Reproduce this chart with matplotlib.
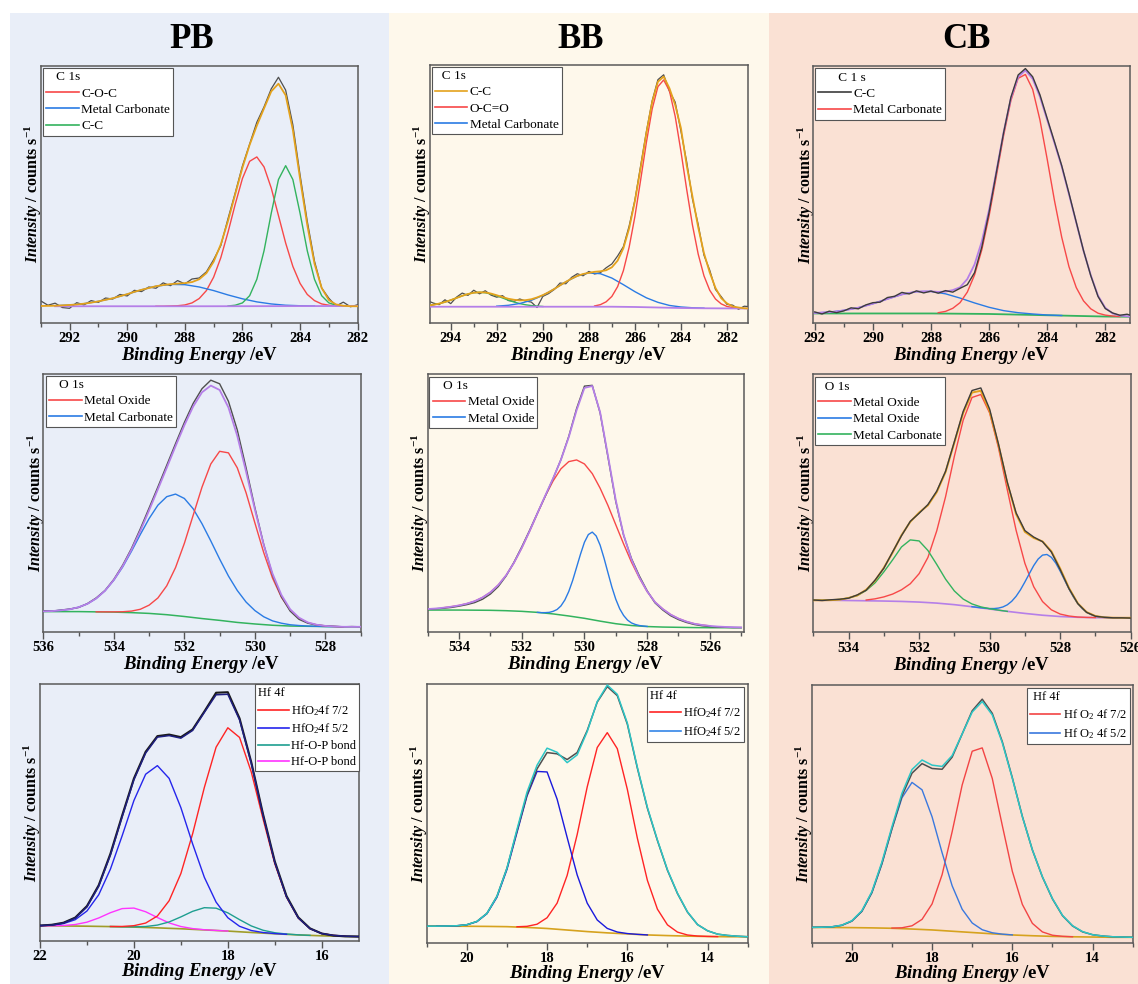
import numpy as np
import matplotlib
matplotlib.use("Agg")
import matplotlib.pyplot as plt
from matplotlib.lines import Line2D
from matplotlib.patches import Rectangle
from matplotlib.ticker import MultipleLocator

plt.rcParams['font.family'] = ['Liberation Serif', 'DejaVu Serif']
plt.rcParams['mathtext.fontset'] = 'custom'
plt.rcParams['mathtext.rm'] = 'Liberation Serif'
plt.rcParams['mathtext.it'] = 'Liberation Serif:italic'
plt.rcParams['mathtext.bf'] = 'Liberation Serif:bold'
try:
    plt.rcParams['mathtext.bfit'] = 'Liberation Serif:italic:bold'
    BFIT = r'\mathbfit'
except KeyError:
    BFIT = r'\mathit'

# ------------------------------------------------------------------ data
# every curve: values (intensity, 0-100 scale of the panel) sampled from a
# start energy with a fixed energy step (eV, decreasing)

column_titles = ['PB', 'BB', 'CB']

# ---------------- PB, C 1s
pb_c1s_ticks = [292, 290, 288, 286, 284, 282]
pb_c1s_raw_at = (293.0, 0.25)
pb_c1s_raw = [8.5, 6.8, 7.6, 5.9, 5.6, 7.8, 6.9, 8.6, 7.9, 9.6, 9.2, 11.0, 10.4, 12.6, 12.1,
              13.9, 13.4, 15.5, 14.4, 16.4, 15.1, 17.0, 17.4, 19.8, 24.5, 30.0, 40.5, 50.5,
              61.0, 69.5, 78.0, 84.0, 91.0, 95.5, 90.5, 77.0, 57.5, 39.5, 24.0, 13.5, 9.5,
              6.5, 8.0, 6.2, 7.0]
pb_c1s_fit_at = (293.0, 0.25)
pb_c1s_fit = [6.5, 6.55, 6.6, 6.75, 6.9, 7.1, 7.4, 7.8, 8.3, 8.9, 9.5, 10.3, 11.1, 12.0, 12.8,
              13.5, 14.2, 14.65, 15.0, 15.2, 15.4, 15.8, 16.9, 19.3, 23.7, 30.5, 39.6, 50.0,
              60.3, 69.2, 76.7, 83.4, 90.0, 93.0, 88.5, 75.0, 56.0, 38.0, 23.0, 13.5, 8.8,
              7.1, 6.6, 6.4, 6.4]
pb_c1s_coc_at = (289.0, 0.25)
pb_c1s_coc = [6.4, 6.4, 6.5, 6.6, 6.9, 7.7, 9.4, 12.5, 17.7, 25.3, 35.2, 46.1, 56.1, 62.8,
              64.5, 60.6, 52.4, 41.7, 31.0, 21.9, 15.3, 11.0, 8.6, 7.3, 6.8, 6.5, 6.4]
pb_c1s_cc_at = (286.5, 0.25)
pb_c1s_cc = [6.5, 6.8, 7.7, 10.5, 16.9, 28.0, 42.6, 55.7, 61.1, 55.7, 42.6, 28.0, 16.9, 10.5,
             7.7, 6.8, 6.5, 6.4]
pb_c1s_carb_at = (292.5, 0.5)
pb_c1s_carb = [6.6, 6.9, 7.4, 8.3, 9.5, 11.1, 12.8, 14.2, 14.9, 14.8, 13.9, 12.5, 10.8, 9.3,
               8.1, 7.3, 6.8, 6.6, 6.5]
pb_c1s_bg_at = (292.5, 5.25)
pb_c1s_bg = [6.4, 6.4, 6.5]

# ---------------- BB, C 1s
bb_c1s_ticks = [294, 292, 290, 288, 286, 284, 282]
bb_c1s_raw_at = (295.0, 0.25)
bb_c1s_raw = [8.5, 7.6, 7.0, 8.9, 7.4, 9.9, 11.5, 10.6, 12.6, 11.2, 12.4, 10.7, 9.9, 10.5,
              8.6, 8.3, 9.2, 8.4, 8.0, 5.9, 10.2, 11.3, 12.9, 15.4, 15.1, 17.6, 19.0, 18.2,
              19.9, 18.9, 19.4, 21.3, 22.8, 25.9, 29.5, 37.5, 47.6, 60.9, 74.2, 86.1, 94.3,
              96.2, 89.8, 85.6, 74.3, 62.4, 48.0, 38.1, 26.2, 20.4, 12.9, 10.1, 7.1, 6.8,
              5.2, 6.4, 6.2]
bb_c1s_fit_at = (295.0, 0.25)
bb_c1s_fit = [6.65, 6.96, 7.41, 8.02, 8.76, 9.6, 10.43, 11.14, 11.63, 11.8, 11.75, 11.3, 10.65,
              9.95, 9.3, 8.9, 8.65, 8.75, 9.1, 9.8, 10.7, 11.8, 13.1, 14.5, 15.85, 17.1, 18.15,
              18.9, 19.35, 19.75, 19.95, 20.35, 21.5, 24.1, 28.9, 36.6, 47.15, 60.05, 73.65,
              85.6, 93.5, 95.5, 91.0, 84.5, 75.5, 61.0, 49.0, 37.0, 27.0, 19.5, 13.5, 9.5,
              7.5, 6.3, 5.9, 5.6, 5.5]
bb_c1s_oco_at = (287.75, 0.25)
bb_c1s_oco = [6.5, 7.0, 8.1, 10.2, 14.0, 20.2, 29.3, 41.2, 55.4, 70.0, 82.9, 91.6, 94.2, 90.0,
              80.1, 66.5, 51.7, 37.9, 26.6, 18.2, 12.6, 9.2, 7.3, 6.3, 5.85, 5.6]
bb_c1s_carb_at = (292.0, 0.5)
bb_c1s_carb = [6.42, 6.75, 7.45, 8.68, 10.59, 13.11, 15.84, 18.14, 19.33, 19.02, 17.32, 14.76,
               12.05, 9.65, 7.9, 6.7, 6.1, 5.8, 5.65]
bb_c1s_side_at = (295.0, 0.25)
bb_c1s_side = [6.65, 6.96, 7.41, 8.02, 8.76, 9.6, 10.43, 11.14, 11.63, 11.8, 11.63, 11.14,
               10.43, 9.6, 8.76, 8.02, 7.41, 6.96, 6.65, 6.45, 6.3]
bb_c1s_bg_at = (295.0, 1.0)
bb_c1s_bg = [6.2, 6.2, 6.2, 6.2, 6.2, 6.2, 6.2, 6.2, 6.2, 6.1, 5.9, 5.7, 5.6, 5.55, 5.5]

# ---------------- CB, C 1s
cb_c1s_ticks = [292, 290, 288, 286, 284, 282]
cb_c1s_raw_at = (292.0, 0.25)
cb_c1s_raw = [4.2, 3.4, 4.5, 3.9, 4.6, 5.8, 5.4, 6.9, 7.8, 8.0, 9.8, 10.3, 11.8, 11.2, 12.4,
              11.6, 12.3, 11.5, 12.5, 11.9, 13.4, 14.8, 19.5, 29.5, 43.0, 58.5, 74.0, 87.8,
              96.5, 99.0, 95.8, 88.8, 79.6, 70.5, 61.2, 50.4, 39.2, 28.1, 18.3, 10.2, 5.5,
              3.8, 2.9, 3.3, 2.4]
cb_c1s_fit_at = (292.0, 0.25)
cb_c1s_fit = [3.8, 3.95, 4.1, 4.4, 4.8, 5.3, 5.85, 6.6, 7.4, 8.3, 9.25, 10.15, 11.0, 11.6, 12.1,
              12.2, 12.2, 12.0, 12.1, 12.7, 13.8, 17.0, 22.7, 31.7, 44.0, 58.9, 74.2, 87.4,
              95.7, 98.3, 95.0, 88.0, 79.0, 70.0, 60.8, 50.0, 39.0, 28.0, 18.5, 10.5, 5.8,
              3.6, 2.8, 2.5, 2.3]
cb_c1s_main_at = (287.75, 0.25)
cb_c1s_main = [3.9, 4.4, 5.6, 7.8, 11.9, 18.6, 28.4, 41.6, 57.1, 72.9, 86.5, 95.2, 96.7, 90.9,
               79.0, 63.7, 47.6, 33.3, 21.8, 13.7, 8.5, 5.4, 3.7, 2.95, 2.6, 2.4]
cb_c1s_carb_at = (292.0, 0.5)
cb_c1s_carb = [3.8, 4.1, 4.8, 5.85, 7.4, 9.25, 11.0, 12.1, 12.2, 11.25, 9.6, 7.7, 6.0, 4.7,
               3.9, 3.4, 3.0, 2.8]
cb_c1s_bg_at = (292.0, 1.0)
cb_c1s_bg = [3.6, 3.6, 3.6, 3.6, 3.6, 3.5, 3.4, 3.15, 2.9, 2.65, 2.4, 2.3]

# ---------------- PB, O 1s
pb_o1s_ticks = [536, 534, 532, 530, 528]
pb_o1s_raw_at = (536.0, 0.25)
pb_o1s_raw = [8.1, 8.0, 8.4, 8.8, 9.4, 10.9, 13.1, 16.0, 20.3, 25.8, 32.3, 39.9, 48.0, 56.2,
              64.6, 73.0, 81.2, 88.6, 94.3, 97.6, 96.2, 89.4, 78.3, 63.6, 48.1, 33.9, 22.0,
              13.6, 8.0, 4.8, 3.3, 2.6, 2.3, 2.1, 1.9, 2.0, 1.9]
pb_o1s_fit_at = (536.0, 0.25)
pb_o1s_fit = [7.9, 8.0, 8.3, 8.7, 9.5, 10.8, 12.9, 15.9, 20.1, 25.4, 31.8, 39.1, 47.1, 55.3,
              63.6, 72.0, 80.1, 87.4, 92.9, 95.5, 93.8, 87.0, 76.0, 62.1, 47.4, 33.7, 22.5,
              14.3, 8.7, 5.45, 3.6, 2.7, 2.25, 2.05, 1.9, 1.9, 1.9]
pb_o1s_oxide_at = (534.5, 0.25)
pb_o1s_oxide = [7.7, 7.7, 7.7, 7.75, 8.0, 8.7, 10.3, 13.1, 17.8, 24.9, 34.3, 45.2, 56.1, 65.1,
                70.0, 69.4, 63.6, 53.9, 42.2, 30.7, 20.8, 13.4, 8.3, 5.2, 3.5, 2.7, 2.2, 2.0,
                1.9]
pb_o1s_carb_at = (536.0, 0.25)
pb_o1s_carb = [7.9, 8.0, 8.3, 8.7, 9.5, 10.8, 12.9, 15.9, 20.0, 25.1, 31.2, 37.7, 43.9, 49.1,
               52.4, 53.4, 51.7, 47.7, 41.9, 35.2, 28.2, 21.6, 16.0, 11.5, 8.2, 5.8, 4.2, 3.3,
               2.7, 2.4, 2.2, 2.1, 2.0, 1.95, 1.9]
pb_o1s_bg_at = (536.0, 0.5)
pb_o1s_bg = [7.8, 7.8, 7.8, 7.7, 7.6, 7.4, 7.1, 6.6, 5.9, 5.1, 4.4, 3.6, 3.0, 2.5, 2.2, 2.1,
             2.0, 1.9, 1.9]

# ---------------- BB, O 1s
bb_o1s_ticks = [534, 532, 530, 528, 526]
bb_o1s_raw_at = (535.0, 0.25)
bb_o1s_raw = [8.7, 8.9, 9.1, 9.4, 9.9, 10.5, 11.3, 12.6, 14.6, 17.5, 21.6, 26.9, 32.9, 39.3,
              46.0, 52.6, 59.4, 66.8, 75.8, 86.6, 95.3, 95.6, 84.9, 67.8, 50.5, 37.4, 28.4,
              21.7, 15.9, 11.2, 8.4, 6.2, 4.7, 3.6, 2.8, 2.3, 2.0, 1.8, 1.7, 1.6, 1.6]
bb_o1s_fit_at = (535.0, 0.25)
bb_o1s_fit = [8.8, 9.0, 9.3, 9.7, 10.2, 10.9, 11.85, 13.3, 15.3, 18.1, 21.85, 26.7, 32.5, 39.0,
              45.95, 52.8, 59.5, 66.7, 75.5, 85.95, 94.6, 95.35, 85.2, 68.3, 51.0, 37.6, 28.0,
              21.1, 15.65, 11.5, 8.8, 6.65, 5.1, 3.95, 3.1, 2.6, 2.25, 2.0, 1.85, 1.75, 1.65]
bb_o1s_oxide1_at = (534.5, 0.25)
bb_o1s_oxide1 = [9.3, 9.7, 10.2, 10.9, 11.85, 13.3, 15.3, 18.1, 21.85, 26.7, 32.5, 39.0, 45.9,
                 52.6, 58.5, 63.2, 66.0, 66.65, 65.1, 61.35, 55.7, 49.0, 41.5, 34.05, 27.0,
                 20.9, 15.6, 11.5, 8.8, 6.65, 5.1, 3.95, 3.1, 2.6, 2.25]
bb_o1s_oxide2_at = (531.5, 0.125)
bb_o1s_oxide2 = [7.5, 7.4, 7.4, 7.5, 7.9, 8.6, 10.0, 12.3, 15.6, 19.9, 25.0, 30.1, 34.7, 37.7,
                 38.65, 37.15, 33.6, 28.55, 22.9, 17.35, 12.6, 8.9, 6.3, 4.5, 3.4, 2.8, 2.4,
                 2.2, 2.05]
bb_o1s_bg_at = (535.0, 0.5)
bb_o1s_bg = [8.4, 8.4, 8.4, 8.35, 8.3, 8.15, 7.9, 7.5, 6.9, 6.1, 5.2, 4.1, 3.1, 2.4, 2.0, 1.8,
             1.7, 1.6, 1.55, 1.55, 1.55]

# ---------------- CB, O 1s
cb_o1s_ticks = [534, 532, 530, 528, 526]
cb_o1s_raw_at = (535.0, 0.25)
cb_o1s_raw = [12.4, 12.2, 12.5, 12.7, 13.1, 14.4, 16.2, 20.1, 24.7, 31.1, 37.3, 42.9, 46.0,
              49.4, 54.6, 62.3, 73.8, 85.5, 93.6, 94.6, 86.4, 72.9, 58.1, 46.2, 39.3, 36.8,
              35.0, 31.0, 24.2, 16.8, 11.0, 7.6, 6.1, 5.7, 5.5, 5.5, 5.4]
cb_o1s_fit_at = (535.0, 0.25)
cb_o1s_fit = [12.3, 12.3, 12.35, 12.55, 13.2, 14.2, 16.4, 19.85, 24.9, 30.8, 37.5, 42.7, 46.3,
              49.1, 54.2, 62.0, 73.4, 84.9, 92.8, 93.5, 85.6, 72.5, 57.8, 45.7, 38.8, 36.45,
              35.1, 31.3, 24.6, 17.05, 11.1, 7.7, 6.2, 5.67, 5.53, 5.5, 5.5]
cb_o1s_oxide1_at = (533.5, 0.25)
cb_o1s_oxide1 = [12.4, 12.85, 13.6, 14.7, 16.35, 18.7, 22.6, 28.9, 39.2, 52.4, 68.1, 82.1, 90.9,
                 92.05, 84.9, 71.45, 55.2, 39.45, 26.6, 17.55, 11.8, 8.6, 6.95, 6.2, 5.8, 5.65,
                 5.6]
cb_o1s_oxide2_at = (530.5, 0.125)
cb_o1s_oxide2 = [9.8, 9.6, 9.4, 9.25, 9.1, 9.09, 9.27, 9.7, 10.53, 11.89, 13.83, 16.37, 19.4,
                 22.6, 25.75, 28.27, 29.8, 30.05, 28.95, 26.72, 23.6, 20.12, 16.7, 13.58, 11.0,
                 9.05, 7.65, 6.75, 6.18, 5.85, 5.67, 5.58, 5.53, 5.51, 5.5, 5.5, 5.5]
cb_o1s_carb_at = (535.0, 0.25)
cb_o1s_carb = [12.3, 12.3, 12.4, 12.6, 13.2, 14.15, 16.1, 19.05, 23.3, 27.97, 32.95, 35.7, 35.3,
               31.6, 26.2, 20.5, 15.9, 12.76, 10.87, 9.74, 9.02, 8.48, 8.0]
cb_o1s_bg_at = (535.0, 0.5)
cb_o1s_bg = [12.3, 12.3, 12.2, 12.1, 12.0, 11.85, 11.6, 11.2, 10.6, 9.8, 8.9, 8.0, 7.2, 6.5,
             6.0, 5.7, 5.55, 5.5, 5.5]

# ---------------- PB, Hf 4f
pb_hf_ticks = [22, 20, 18, 16]
pb_hf_raw_at = (22.0, 0.25)
pb_hf_raw = [5.9, 6.2, 7.0, 9.0, 13.5, 21.6, 33.9, 48.8, 63.2, 73.6, 79.7, 80.3, 79.3, 82.3,
             89.3, 96.6, 96.8, 86.6, 69.5, 49.3, 30.9, 17.4, 9.1, 4.8, 2.8, 2.0, 1.7, 1.6, 1.6]
pb_hf_fit_at = (22.0, 0.25)
pb_hf_fit = [5.88, 6.1, 6.84, 8.78, 13.14, 21.16, 33.36, 48.21, 62.67, 73.1, 79.3, 79.9, 78.9,
             81.9, 88.93, 95.8, 96.0, 86.03, 69.02, 48.81, 30.47, 17.05, 8.88, 4.67, 2.78,
             2.06, 1.77, 1.65, 1.6]
pb_hf_72_at = (20.5, 0.25)
pb_hf_72 = [5.53, 5.55, 5.85, 6.87, 9.62, 15.57, 26.15, 41.63, 59.7, 75.38, 82.95, 79.18, 65.7,
            47.45, 30.0, 16.93, 8.85, 4.67, 2.78, 2.06, 1.77]
pb_hf_52_at = (22.0, 0.25)
pb_hf_52 = [5.88, 6.07, 6.66, 8.18, 11.57, 17.88, 27.9, 40.9, 54.6, 64.85, 68.2, 63.23, 51.85,
            37.73, 24.7, 15.03, 8.95, 5.61, 3.97, 3.19, 2.77, 2.5]
pb_hf_hfop1_at = (20.5, 0.25)
pb_hf_hfop1 = [5.52, 5.43, 5.41, 5.53, 6.08, 7.3, 9.27, 11.44, 12.86, 12.67, 10.85, 8.2, 5.75,
               4.07, 3.1, 2.6, 2.28, 2.08]
pb_hf_hfop2_at = (22.0, 0.25)
pb_hf_hfop2 = [5.8, 5.8, 5.93, 6.3, 7.22, 8.85, 10.91, 12.51, 12.71, 11.28, 9.03, 6.93, 5.52,
               4.72, 4.27, 4.0, 3.75]
pb_hf_bg_at = (22.0, 0.5)
pb_hf_bg = [5.8, 5.75, 5.65, 5.5, 5.3, 5.0, 4.65, 4.2, 3.75, 3.2, 2.7, 2.25, 1.9, 1.7, 1.6]

# ---------------- BB, Hf 4f
bb_hf_ticks = [20, 18, 16, 14]
bb_hf_raw_at = (21.0, 0.25)
bb_hf_raw = [6.4, 6.4, 6.45, 6.55, 6.95, 8.2, 11.3, 17.9, 28.8, 43.2, 57.2, 67.2, 73.5, 73.0,
             70.8, 73.5, 82.0, 93.0, 99.0, 95.5, 84.5, 67.5, 52.0, 39.5, 28.0, 19.0, 11.8,
             7.0, 4.6, 3.3, 2.8, 2.5, 2.3]
bb_hf_fit_at = (21.0, 0.25)
bb_hf_fit = [6.4, 6.4, 6.45, 6.55, 6.95, 8.2, 11.3, 17.9, 28.8, 43.8, 58.2, 68.6, 75.2, 73.6,
             69.6, 72.6, 81.6, 93.2, 99.6, 96.0, 84.9, 67.8, 52.3, 39.7, 28.2, 19.1, 11.9,
             7.0, 4.6, 3.3, 2.8, 2.5, 2.3]
bb_hf_72_at = (18.75, 0.25)
bb_hf_72 = [6.16, 6.33, 7.14, 9.65, 15.3, 26.0, 41.8, 60.2, 75.45, 81.2, 75.0, 59.3, 40.4,
            24.1, 12.97, 6.9, 4.09, 2.98, 2.58, 2.43, 2.35]
bb_hf_52_at = (20.75, 0.25)
bb_hf_52 = [6.4, 6.43, 6.53, 6.91, 8.13, 11.2, 17.55, 28.3, 42.55, 56.7, 66.2, 66.0, 55.5,
            40.7, 26.2, 15.3, 8.78, 5.52, 4.13, 3.54, 3.23, 3.0]
bb_hf_bg_at = (21.0, 0.5)
bb_hf_bg = [6.4, 6.4, 6.35, 6.3, 6.2, 5.9, 5.5, 4.9, 4.3, 3.8, 3.4, 3.0, 2.75, 2.55, 2.4, 2.3,
            2.3]

# ---------------- CB, Hf 4f
cb_hf_ticks = [20, 18, 16, 14]
cb_hf_raw_at = (21.0, 0.25)
cb_hf_raw = [5.95, 6.0, 6.15, 6.75, 8.4, 12.2, 19.5, 30.8, 44.3, 57.0, 65.8, 69.5, 67.6, 67.3,
             72.0, 81.0, 90.0, 94.5, 89.0, 78.0, 64.0, 49.0, 36.0, 25.5, 17.0, 10.5, 6.5,
             4.2, 3.1, 2.6, 2.3, 2.2, 2.1]
cb_hf_fit_at = (21.0, 0.25)
cb_hf_fit = [5.95, 6.0, 6.15, 6.8, 8.5, 12.4, 19.8, 31.3, 45.0, 58.0, 67.2, 70.9, 68.9, 68.4,
             72.6, 81.0, 89.5, 93.6, 88.4, 77.6, 63.8, 48.9, 36.0, 25.6, 17.1, 10.6, 6.6,
             4.3, 3.1, 2.6, 2.3, 2.2, 2.1]
cb_hf_72_at = (19.0, 0.25)
cb_hf_72 = [5.67, 5.79, 6.56, 9.06, 15.05, 26.4, 43.05, 61.2, 74.3, 75.6, 63.75, 45.5, 27.7,
            14.85, 7.5, 4.18, 2.9, 2.48, 2.3]
cb_hf_52_at = (21.0, 0.25)
cb_hf_52 = [5.96, 5.99, 6.14, 6.73, 8.36, 12.14, 19.35, 30.48, 44.1, 56.25, 62.2, 59.33, 48.85,
            34.9, 22.1, 12.98, 7.65, 5.03, 3.86, 3.32, 3.03]
cb_hf_bg_at = (21.0, 0.5)
cb_hf_bg = [5.95, 5.9, 5.85, 5.75, 5.6, 5.3, 4.95, 4.45, 3.95, 3.45, 3.0, 2.7, 2.45, 2.3, 2.2,
            2.1, 2.1]

# ------------------------------------------------------------------ styles
GRAY = '#4f4f4f'
DGRAY = '#3c3c3c'
ORANGE = '#E4A21C'
RED = '#F74848'
BLUE = '#2A7BE4'
GREEN = '#33B35E'
VIOLET = '#B57FE8'
HF_RED = '#FF2424'
HF_BLUE = '#2525EC'
TEAL = '#1E9E90'
MAGENTA = '#FF33FF'
NAVY = '#1F1F80'
BLACK = '#1a1a1a'
OLIVE = '#A09D2A'
GOLD = '#D6A21E'
CYAN = '#2CC6C6'
CB_RED = '#F24444'
CB_BLUE = '#3A78DE'

W, H = 1138, 984
fig = plt.figure(figsize=(W / 100, H / 100), dpi=100, facecolor='white')

# coloured column backgrounds on a figure-wide axes placed behind everything
bg_ax = fig.add_axes([0, 0, 1, 1], zorder=-10)
bg_ax.set_xlim(0, W)
bg_ax.set_ylim(H, 0)
bg_ax.axis('off')
for x0, x1, c in [(10, 389, '#E9EEF8'), (389, 769, '#FEF8EB'), (769, 1138, '#FAE1D4')]:
    bg_ax.add_patch(Rectangle((x0, 13), x1 - x0, H - 13, facecolor=c, edgecolor='none'))

for name, xc in zip(column_titles, [192, 581, 966]):
    fig.text(xc / W, 1 - 40 / H, name, ha='center', va='center', fontsize=25,
             fontweight='bold')

XLABEL = r'$' + BFIT + r'{Binding\ Energy}$ /eV'
YLABEL = r'$' + BFIT + r'{Intensity}$ / counts s$^{\mathbf{-1}}$'


def C(vals, at, color, lw=1.0, z=3):
    return (vals, at, color, lw, z)


panels = [
    dict(box=(40.7, 65.7, 357.7, 322.7), xlim=(293, 282), ticks=pb_c1s_ticks,
         curves=[C(pb_c1s_raw, pb_c1s_raw_at, GRAY, 0.9, 2),
                 C(pb_c1s_coc, pb_c1s_coc_at, RED),
                 C(pb_c1s_carb, pb_c1s_carb_at, BLUE),
                 C(pb_c1s_cc, pb_c1s_cc_at, GREEN),
                 C(pb_c1s_bg, pb_c1s_bg_at, VIOLET, 1.3, 3),
                 C(pb_c1s_fit, pb_c1s_fit_at, ORANGE, 1.3, 5)],
         title='   C 1s', entries=[('C-O-C', RED), ('Metal Carbonate', BLUE), ('C-C', GREEN)],
         loc='upper left', lpos=(43, 68), fs=9.5),
    dict(box=(430, 65, 747.7, 322.7), xlim=(294.9, 281.1), ticks=bb_c1s_ticks,
         curves=[C(bb_c1s_raw, bb_c1s_raw_at, GRAY, 0.9, 2),
                 C(bb_c1s_side, bb_c1s_side_at, GREEN),
                 C(bb_c1s_carb, bb_c1s_carb_at, BLUE),
                 C(bb_c1s_oco, bb_c1s_oco_at, RED),
                 C(bb_c1s_bg, bb_c1s_bg_at, VIOLET, 1.3, 3),
                 C(bb_c1s_fit, bb_c1s_fit_at, ORANGE, 1.3, 5)],
         title='  C 1s', entries=[('C-C', ORANGE), ('O-C=O', RED), ('Metal Carbonate', BLUE)],
         loc='upper left', lpos=(431.7, 66.7), fs=9.5),
    dict(box=(813.3, 66, 1130, 322.7), xlim=(292.05, 281.15), ticks=cb_c1s_ticks,
         curves=[C(cb_c1s_bg, cb_c1s_bg_at, GREEN, 1.3, 2),
                 C(cb_c1s_carb, cb_c1s_carb_at, BLUE),
                 C(cb_c1s_main, cb_c1s_main_at, RED),
                 C(cb_c1s_fit, cb_c1s_fit_at, VIOLET, 1.3, 4),
                 C(cb_c1s_raw, cb_c1s_raw_at, DGRAY, 1.0, 5)],
         title='      C 1 s', entries=[('C-C', DGRAY), ('Metal Carbonate', RED)],
         loc='upper left', lpos=(815, 68.3), fs=9.5),
    dict(box=(43.3, 374, 360.7, 631.7), xlim=(536, 527), ticks=pb_o1s_ticks,
         curves=[C(pb_o1s_bg, pb_o1s_bg_at, GREEN, 1.1, 2),
                 C(pb_o1s_carb, pb_o1s_carb_at, BLUE),
                 C(pb_o1s_oxide, pb_o1s_oxide_at, RED),
                 C(pb_o1s_raw, pb_o1s_raw_at, GRAY, 1.0, 4),
                 C(pb_o1s_fit, pb_o1s_fit_at, VIOLET, 1.3, 5)],
         title='   O 1s', entries=[('Metal Oxide', RED), ('Metal Carbonate', BLUE)],
         loc='upper left', lpos=(46, 375.7), fs=9.5),
    dict(box=(427.7, 374, 744.3, 631.7), xlim=(535, 524.9), ticks=bb_o1s_ticks,
         curves=[C(bb_o1s_bg, bb_o1s_bg_at, GREEN, 1.1, 2),
                 C(bb_o1s_oxide1, bb_o1s_oxide1_at, RED),
                 C(bb_o1s_oxide2, bb_o1s_oxide2_at, BLUE),
                 C(bb_o1s_raw, bb_o1s_raw_at, GRAY, 1.0, 4),
                 C(bb_o1s_fit, bb_o1s_fit_at, VIOLET, 1.3, 5)],
         title='   O 1s', entries=[('Metal Oxide', RED), ('Metal Oxide', BLUE)],
         loc='upper left', lpos=(429.3, 376.7), fs=9.5),
    dict(box=(813.3, 374, 1130.7, 632), xlim=(535, 526.05), ticks=cb_o1s_ticks,
         curves=[C(cb_o1s_bg, cb_o1s_bg_at, VIOLET, 1.2, 2),
                 C(cb_o1s_oxide1, cb_o1s_oxide1_at, RED),
                 C(cb_o1s_oxide2, cb_o1s_oxide2_at, BLUE),
                 C(cb_o1s_carb, cb_o1s_carb_at, GREEN),
                 C(cb_o1s_fit, cb_o1s_fit_at, ORANGE, 1.4, 4),
                 C(cb_o1s_raw, cb_o1s_raw_at, DGRAY, 1.0, 5)],
         title='  O 1s', entries=[('Metal Oxide', RED), ('Metal Oxide', BLUE),
                                  ('Metal Carbonate', GREEN)],
         loc='upper left', lpos=(815, 377.3), fs=9.5),
    dict(box=(40, 684, 359.3, 940.7), xlim=(22, 15.2), ticks=pb_hf_ticks,
         curves=[C(pb_hf_bg, pb_hf_bg_at, OLIVE, 1.2, 2),
                 C(pb_hf_hfop2, pb_hf_hfop2_at, MAGENTA),
                 C(pb_hf_hfop1, pb_hf_hfop1_at, TEAL),
                 C(pb_hf_72, pb_hf_72_at, HF_RED),
                 C(pb_hf_52, pb_hf_52_at, HF_BLUE),
                 C(pb_hf_raw, pb_hf_raw_at, BLACK, 1.5, 4),
                 C(pb_hf_fit, pb_hf_fit_at, NAVY, 1.1, 5)],
         title='Hf 4f', entries=[('HfO$_2$4f 7/2', HF_RED), ('HfO$_2$4f 5/2', HF_BLUE),
                                 ('Hf-O-P bond', TEAL), ('Hf-O-P bond', MAGENTA)],
         loc='upper right', lpos=(359.3, 684), fs=9),
    dict(box=(426.7, 684, 747.7, 942.7), xlim=(21, 13), ticks=bb_hf_ticks,
         curves=[C(bb_hf_bg, bb_hf_bg_at, GOLD, 1.2, 2),
                 C(bb_hf_72, bb_hf_72_at, HF_RED),
                 C(bb_hf_52, bb_hf_52_at, '#1A1ADC'),
                 C(bb_hf_raw, bb_hf_raw_at, GRAY, 1.1, 4),
                 C(bb_hf_fit, bb_hf_fit_at, CYAN, 1.1, 5)],
         title='Hf 4f', entries=[('HfO$_2$4f 7/2', HF_RED), ('HfO$_2$4f 5/2', '#3385E8')],
         loc='upper right', lpos=(744.3, 686.7), fs=9),
    dict(box=(811.7, 685, 1132.7, 942.7), xlim=(21, 13), ticks=cb_hf_ticks,
         curves=[C(cb_hf_bg, cb_hf_bg_at, GOLD, 1.2, 2),
                 C(cb_hf_72, cb_hf_72_at, CB_RED),
                 C(cb_hf_52, cb_hf_52_at, CB_BLUE),
                 C(cb_hf_raw, cb_hf_raw_at, GRAY, 1.1, 4),
                 C(cb_hf_fit, cb_hf_fit_at, CYAN, 1.1, 5)],
         title=' Hf 4f', entries=[('Hf O$_2$ 4f 7/2', CB_RED), ('Hf O$_2$ 4f 5/2', CB_BLUE)],
         loc='upper right', lpos=(1130, 688.3), fs=9),
]

for i, p in enumerate(panels):
    l, t, r, b = p['box']
    ax = fig.add_axes([l / W, 1 - b / H, (r - l) / W, (b - t) / H])
    ax.set_facecolor('none')
    for vals, (e0, de), color, lw, z in p['curves']:
        e = e0 - de * np.arange(len(vals))
        ax.plot(e, vals, color=color, lw=lw, zorder=z, solid_joinstyle='round')
    ax.set_xlim(*p['xlim'])
    ax.set_ylim(0, 100)
    ax.set_yticks([])
    ax.set_xticks(p['ticks'])
    ax.set_xticklabels([str(v) for v in p['ticks']], fontweight='bold')
    ax.xaxis.set_minor_locator(MultipleLocator(1))
    ax.tick_params(axis='x', which='major', direction='out', length=5, width=1.0,
                   color='#555555', labelsize=10.5, pad=2)
    ax.tick_params(axis='x', which='minor', direction='out', length=3, width=1.0,
                   color='#555555')
    for s in ax.spines.values():
        s.set_color('#5a5a5a')
        s.set_linewidth(1.1)
    ax.set_xlabel(XLABEL, fontsize=13.5, fontweight='bold',
                  labelpad=(-1.5 if i >= 6 else 0))
    ax.set_ylabel(YLABEL, fontsize=11.5, fontweight='bold', labelpad=-2.5)

    lx, ly = p['lpos']
    anchor = ((lx - l) / (r - l), (b - ly) / (b - t))
    handles = [Line2D([], [], color=c, lw=1.2) for _, c in p['entries']]
    labels = [lab for lab, _ in p['entries']]
    leg = ax.legend(handles, labels, title=p['title'], loc=p['loc'],
                    bbox_to_anchor=anchor, borderaxespad=0, frameon=True, fancybox=False,
                    edgecolor='#555555', framealpha=1, facecolor='white',
                    fontsize=p['fs'], title_fontsize=p['fs'], handlelength=2.45,
                    handletextpad=0.2, labelspacing=0.31, borderpad=0.25,
                    alignment='left')
    leg.get_frame().set_linewidth(0.8)
    leg.set_zorder(10)

fig.savefig('out.png', dpi=100)
